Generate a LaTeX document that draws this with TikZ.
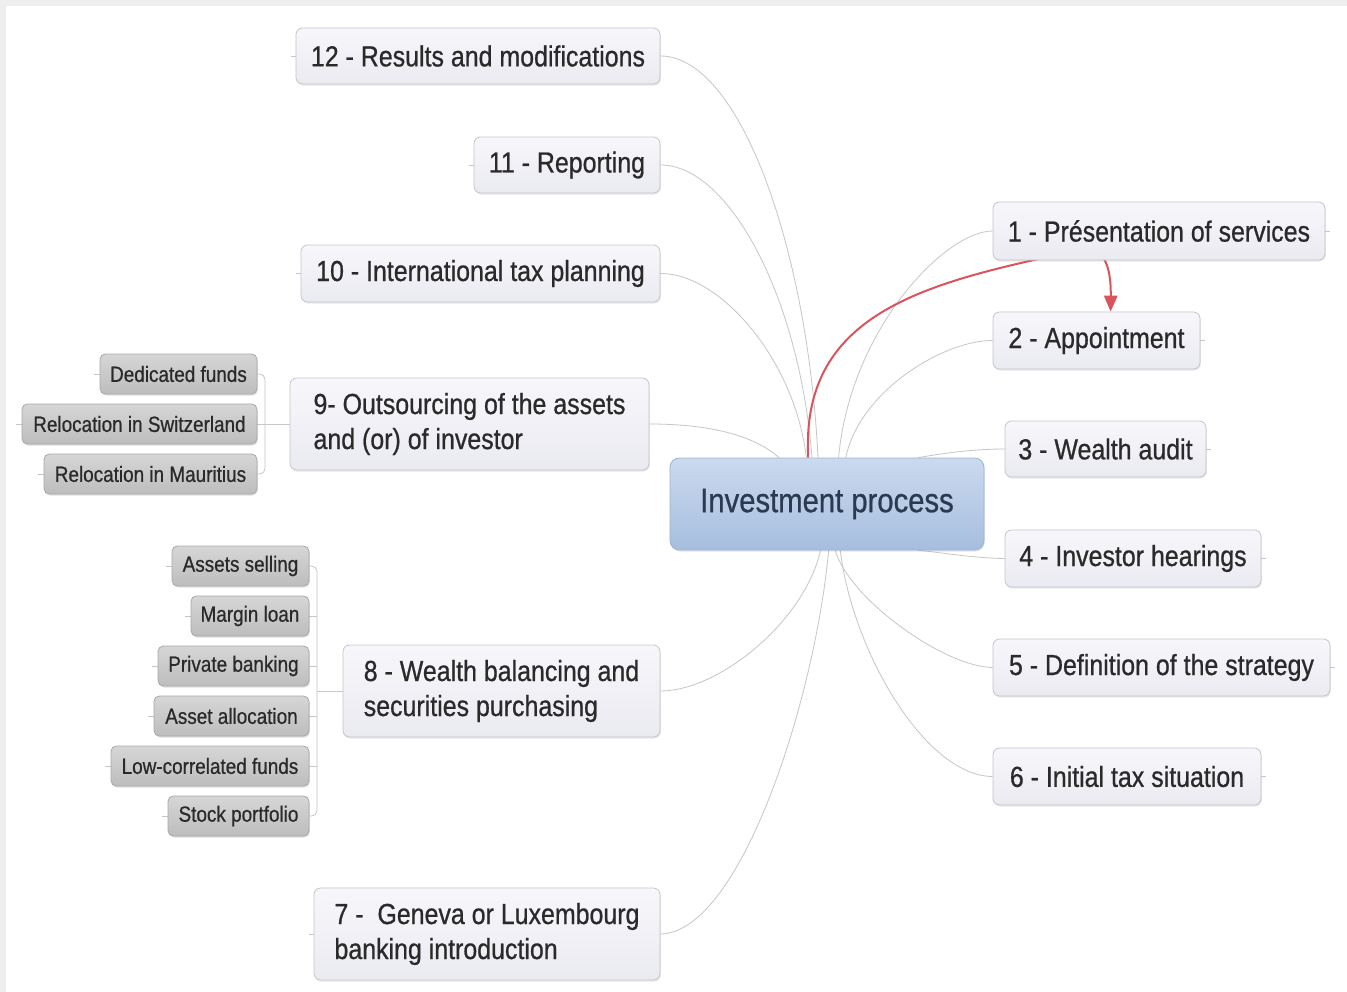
\documentclass[tikz,border=0pt]{standalone}
\usepackage{fontspec}
\setmainfont{Liberation Sans}[FakeStretch=0.86,FakeBold=0.7]
\usetikzlibrary{shadows,arrows.meta}
\definecolor{txt}{HTML}{2A2A2A}
\definecolor{ctxt}{HTML}{2A3A50}
\definecolor{topictop}{HTML}{F7F7FB}
\definecolor{topicbot}{HTML}{EAEAF1}
\definecolor{topicborder}{HTML}{C4C4CE}
\definecolor{subtop}{HTML}{D6D6D6}
\definecolor{subbot}{HTML}{BDBDBD}
\definecolor{subborder}{HTML}{A9A9A9}
\definecolor{ctop}{HTML}{CBDAEE}
\definecolor{cbot}{HTML}{A6BEDF}
\definecolor{cborder}{HTML}{9CB3D3}
\definecolor{linkc}{HTML}{C6C6C6}
\definecolor{relc}{HTML}{D9545B}
\definecolor{framec}{HTML}{EEEEEE}
\newcommand{\mainfnt}{\fontsize{21.75}{26.25}\selectfont}
\newcommand{\centfnt}{\fontsize{25.5}{30}\selectfont}
\newcommand{\subfnt}{\fontsize{16.5}{20}\selectfont}
\pgfdeclarelayer{bg}
\pgfsetlayers{bg,main}
\begin{document}
\begin{tikzpicture}[x=0.75pt,y=-0.75pt,
  topic/.style={draw=topicborder, line width=0.6pt, rounded corners=5pt,
    top color=topictop, bottom color=topicbot, inner sep=0pt, text=txt,
    font=\mainfnt,
    drop shadow={shadow xshift=0.6pt, shadow yshift=-1.2pt, opacity=0.18}},
  twoline/.style={align=left},
  sub/.style={draw=subborder, line width=0.6pt, rounded corners=4pt,
    top color=subtop, bottom color=subbot, inner sep=0pt, text=txt,
    font=\subfnt, minimum height=30pt,
    drop shadow={shadow xshift=0.6pt, shadow yshift=-1.2pt, opacity=0.25}},
  central/.style={draw=cborder, line width=0.6pt, rounded corners=7pt,
    top color=ctop, bottom color=cbot, inner sep=0pt, text=ctxt,
    font=\centfnt, minimum width=235.5pt, minimum height=69pt,
    drop shadow={shadow xshift=0.6pt, shadow yshift=-1.2pt, opacity=0.2}},
  link/.style={draw=linkc, line width=0.6pt},
  tick/.style={draw=linkc, line width=0.6pt},
  relation/.style={draw=relc, line width=1.5pt, -{Triangle[length=12pt,width=10pt]}}
]
\useasboundingbox (0,0) rectangle (1347,992);

% central topic
\node[central] (c) at (827,504) {Investment process};

% left topics
\node[topic, minimum width=273pt, minimum height=42pt] (n12) at (478,56) {12 - Results and modifications};
\node[topic, minimum width=139.5pt, minimum height=42pt] (n11) at (567,165) {11 - Reporting};
\node[topic, minimum width=269.25pt, minimum height=42.75pt] (n10) at (480.5,273.5) {10 - International tax planning};
\node[topic, twoline, minimum width=269.25pt, minimum height=69pt] (n9) at (469.5,424) {9- Outsourcing of the assets\\and (or) of investor};
\node[topic, twoline, minimum width=237.75pt, minimum height=69pt] (n8) at (501.5,691) {8 - Wealth balancing and\\securities purchasing};
\node[topic, twoline, minimum width=259.5pt, minimum height=69pt] (n7) at (487,934) {7 -~ Geneva or Luxembourg\\banking introduction};

% right topics
\node[topic, minimum width=249pt, minimum height=43.5pt] (n1) at (1159,231) {1 - Présentation of services};
\node[topic, minimum width=155.25pt, minimum height=42.75pt] (n2) at (1096.5,340.5) {2 - Appointment};
\node[topic, minimum width=150.75pt, minimum height=42pt] (n3) at (1105.5,449) {3 - Wealth audit};
\node[topic, minimum width=192pt, minimum height=42.75pt] (n4) at (1133,558.5) {4 - Investor hearings};
\node[topic, minimum width=252.75pt, minimum height=42.75pt] (n5) at (1161.5,667.5) {5 - Definition of the strategy};
\node[topic, minimum width=201pt, minimum height=42.75pt] (n6) at (1127,776.5) {6 - Initial tax situation};

% sub topics of 9
\node[sub, minimum width=117.75pt] (g91) at (178.5,374) {Dedicated funds};
\node[sub, minimum width=176.25pt] (g92) at (139.5,424) {Relocation in Switzerland};
\node[sub, minimum width=159.75pt] (g93) at (150.5,474) {Relocation in Mauritius};

% sub topics of 8
\node[sub, minimum width=102.75pt] (g81) at (240.5,566) {Assets selling};
\node[sub, minimum width=88.5pt] (g82) at (250,616) {Margin loan};
\node[sub, minimum width=113.25pt] (g83) at (233.5,666) {Private banking};
\node[sub, minimum width=116.25pt] (g84) at (231.5,716) {Asset allocation};
\node[sub, minimum width=148.5pt] (g85) at (210,766) {Low-correlated funds};
\node[sub, minimum width=105.75pt] (g86) at (238.5,816) {Stock portfolio};

\begin{pgfonlayer}{bg}
  % page background and frame
  \fill[white] (0,0) rectangle (1347,992);
  \fill[framec] (0,0) rectangle (1347,6);
  \fill[framec] (0,0) rectangle (6,992);

  % connectors from the central topic
  \draw[link] (n12.east) .. controls (740,56) and (808,250) .. (c.101);
  \draw[link] (n11.east) .. controls (730,165) and (800,300) .. (c.108);
  \draw[link] (n10.east) .. controls (720,273) and (795,360) .. (c.114.5);
  \draw[link] (n9.east) .. controls (700,424) and (750,432) .. (c.136.8);
  \draw[link] (n8.east) .. controls (720,691) and (805,620) .. (c.-98.7);
  \draw[link] (n7.east) .. controls (740,933) and (815,700) .. (c.-88.8);
  \draw[link] (n1.west) .. controls (945,231) and (850,330) .. (c.76.6);
  \draw[link] (n2.west) .. controls (945,340) and (860,390) .. (c.68.6);
  \draw[link] (n3.west) .. controls (970,449) and (940,454) .. (c.27.6);
  \draw[link] (n4.west) .. controls (970,558) and (940,552) .. (c.-27.6);
  \draw[link] (n5.west) .. controls (945,667) and (850,600) .. (c.-80.1);
  \draw[link] (n6.west) .. controls (925,776) and (852,650) .. (c.-74.2);

  % brackets of sub topics
  \draw[link, rounded corners=4pt] (g91.east) -- (265,374) -- (265,474) -- (g93.east);
  \draw[link] (g92.east) -- (n9.west);
  \draw[link, rounded corners=4pt] (g81.east) -- (317,566) -- (317,816) -- (g86.east);
  \draw[link] (g82.east) -- (317,616);
  \draw[link] (g83.east) -- (317,666);
  \draw[link] (g84.east) -- (317,716);
  \draw[link] (g85.east) -- (317,766);
  \draw[link] (317,691) -- (n8.west);

  % small end ticks
  \draw[tick] (n12.west) -- +(-5,0);
  \draw[tick] (n11.west) -- +(-5,0);
  \draw[tick] (n10.west) -- +(-5,0);
  \draw[tick] (n7.west) -- +(-5,0);
  \draw[tick] (n1.east) -- +(5,0);
  \draw[tick] (n2.east) -- +(5,0);
  \draw[tick] (n3.east) -- +(5,0);
  \draw[tick] (n4.east) -- +(5,0);
  \draw[tick] (n5.east) -- +(5,0);
  \draw[tick] (n6.east) -- +(5,0);
  \foreach \g in {g91,g92,g93,g81,g82,g83,g84,g85,g86}
    \draw[tick] (\g.west) -- +(-6,0);

  % relationship
  \draw[relation] (c.112.4) .. controls (800,310) and (930,282) .. (1080,250)
      .. controls (1108,244) and (1111,275) .. (n2.64.7);
\end{pgfonlayer}
\end{tikzpicture}
\end{document}
